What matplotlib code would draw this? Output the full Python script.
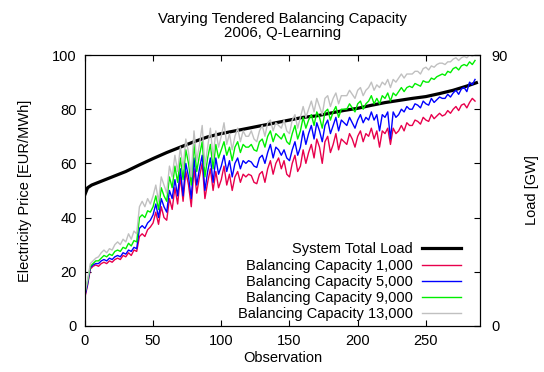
import numpy as np
import matplotlib
matplotlib.use("Agg")
import matplotlib.pyplot as plt

plt.rcParams['font.family'] = ['Liberation Sans', 'DejaVu Sans']
plt.rcParams['font.size'] = 10.5

# observations (every second one) for the price series
obs = np.arange(0, 288, 2)

price_1000 = [
    10.5, 15, 21, 22, 22.5, 22, 23, 23.5, 23, 24, 23.5, 24.5,
    25, 24.5, 26, 25.5, 27, 26, 28, 27.5, 33, 34, 33, 35.5,
    36.5, 38, 42, 37.5, 44, 40, 39, 47, 43, 51, 45, 55,
    46, 57, 52, 44, 58, 49, 55, 60, 47, 53, 58, 50,
    57, 51, 54, 59, 52, 56, 50, 55, 57, 53, 56, 55,
    56, 55.5, 53, 52.5, 56, 57, 53, 58, 61, 56, 60, 62,
    58, 61, 56, 55, 60, 63, 57, 59, 65, 60, 64, 67,
    62, 69, 66, 60, 68, 70, 64, 67, 71, 65, 69, 68,
    67, 71, 69, 66, 70, 72, 68, 71, 70, 73, 69, 72,
    66, 72, 71, 73, 67, 73, 71, 72, 74, 72, 75, 74,
    74, 76, 75.5, 74.5, 77, 76, 75.5, 78, 76.5, 77.5, 78.5, 77.5,
    78, 79.5, 78.5, 80, 81, 79.5, 81.5, 82, 80.5, 82.5, 84, 83,
]
price_5000 = [
    11, 15.5, 21.5, 22.5, 23, 23, 24, 24.5, 24, 25, 24.5, 25.5,
    26, 25.5, 27, 26.5, 28, 27.5, 29, 28.5, 36, 37, 36, 38,
    39, 41, 45, 40, 47, 44, 42, 50, 47, 54, 48, 58,
    48, 60, 55, 47, 62, 52, 58, 63, 50, 57, 62, 53,
    62, 56, 59, 63, 57, 61, 55, 60, 62, 58, 61, 60,
    61, 60.5, 59, 58.5, 62, 63, 60, 64, 67, 62, 66, 65,
    63, 65, 62, 61, 65, 68, 63, 66, 72, 67, 71, 74,
    69, 75, 72, 68, 74, 76, 71, 74, 77, 72, 76, 75,
    74, 77, 75, 73, 76, 78, 75, 77, 76, 79, 76, 78,
    72, 78, 77, 79, 69, 79, 77, 78, 80, 79, 81, 80,
    80, 82, 81.5, 80.5, 83, 82, 81.5, 84, 82.5, 83.5, 84.5, 84,
    84, 85.5, 84.5, 86, 87, 85.5, 87.5, 88, 86.5, 90, 89, 91,
]
price_9000 = [
    12, 16.5, 22, 23, 24, 24, 25, 26, 25.5, 26.5, 26, 27.5,
    28, 27.5, 29, 28.5, 30.5, 29.5, 31.5, 31, 40, 41, 40, 42.5,
    42, 44, 48, 43, 51, 48, 46, 55, 51, 59, 53, 62,
    54, 65, 60, 52, 67, 57, 63, 68, 55, 62, 67, 58,
    67, 62, 65, 68, 63, 66, 61, 66, 68, 64, 67, 66,
    66, 67, 65, 64.5, 68, 69, 66, 70, 72, 68, 71, 70,
    69, 71, 68, 67, 71, 74, 69, 72, 77, 73, 76, 78,
    74, 79, 77, 73, 79, 80, 76, 79, 81, 77, 80, 80,
    80, 82, 80.5, 79, 82, 83, 80, 82, 83, 85, 82, 84,
    82, 85, 84, 86, 83, 86, 85, 86.5, 88, 86.5, 88, 88.5,
    88, 89.5, 89, 88.5, 90.5, 90, 90, 91.5, 91, 92, 92.5, 93,
    92.5, 94, 93.5, 95, 95.5, 94.5, 96, 96.5, 96, 97.5, 96.5, 98,
]
price_13000 = [
    12, 17, 23, 24, 25, 25.5, 27, 28, 27, 28.5, 28, 30,
    31, 30, 32, 31, 34, 32, 35, 34, 44, 46, 44, 47,
    45, 48, 52, 46, 55, 52, 49, 59, 55, 63, 57, 66,
    58, 69, 64, 55, 72, 61, 67, 74, 59, 66, 73, 62,
    72, 66, 70, 75, 67, 71, 65, 70, 73, 68, 72, 70,
    70, 72, 69, 68, 72, 74, 70, 75, 76, 72, 75, 74,
    73, 76, 72, 71, 76, 78, 73, 77, 81, 77, 80, 83,
    79, 84, 81, 78, 84, 85, 81, 84, 86, 82, 85, 85,
    85, 87, 85.5, 84, 87, 88, 85, 87, 88, 90, 87, 89,
    88, 90, 89, 91, 88, 91, 90, 91.5, 93, 91.5, 93, 93,
    93, 94, 94, 93, 95, 95.5, 94.5, 96, 95.5, 96.5, 97, 97,
    96.5, 97.5, 97.5, 98.5, 99, 98, 99, 99.5, 99, 100, 99.5, 100,
]

# system total load in GW (right axis)
load_obs = [0, 2, 5, 10, 20, 30, 40, 50, 60, 70, 80, 90, 100, 110, 120, 130,
            140, 150, 160, 170, 180, 190, 200, 210, 220, 230, 240, 250, 260,
            270, 280, 287]
load_gw = [43.6, 45.9, 46.8, 47.7, 49.5, 51.3, 53.5, 55.6, 57.6, 59.4, 61.2,
           62.8, 63.9, 64.8, 65.7, 66.6, 67.5, 68.4, 69.3, 69.8, 70.7, 71.6,
           72.3, 73.3, 74.2, 74.9, 75.6, 76.2, 77.2, 78.3, 79.7, 80.8]

series = [
    ("Balancing Capacity 1,000", price_1000, "#e8004c"),
    ("Balancing Capacity 5,000", price_5000, "#0000ff"),
    ("Balancing Capacity 9,000", price_9000, "#00ee00"),
    ("Balancing Capacity 13,000", price_13000, "#c0c0c0"),
]

fig = plt.figure(figsize=(5.44, 3.72), dpi=100)
ax = fig.add_axes([0.156, 0.124, 0.726, 0.728])
ax2 = ax.twinx()

# load first (gnuplot plot order), then prices on top
ax.set_zorder(ax2.get_zorder() + 1)
ax.patch.set_visible(False)

h_load, = ax2.plot(load_obs, load_gw, color="black", lw=2.3, label="System Total Load")
handles = [h_load]
for name, vals, col in series:
    h, = ax.plot(obs, vals, color=col, lw=1.0, label=name)
    handles.append(h)

ax.set_xlim(0, 289.5)
ax.set_ylim(0, 100)
ax2.set_ylim(0, 90)
ax.set_xticks(np.arange(0, 300, 50))
ax.set_yticks(np.arange(0, 101, 20))
ax2.set_yticks([0, 90])

ax.tick_params(direction="in", top=True, right=True, length=4, pad=6)
ax2.tick_params(direction="in", length=4, pad=8)

ax.set_xlabel("Observation", labelpad=2)
ax.set_ylabel("Electricity Price [EUR/MWh]", labelpad=14)
ax2.set_ylabel("Load [GW]", labelpad=13)
ax.set_title("Varying Tendered Balancing Capacity\n2006, Q-Learning", fontsize=10.8,
             linespacing=1.0, pad=13)

ax.legend(handles=handles, loc="lower right", bbox_to_anchor=(0.975, -0.015),
          frameon=False, markerfirst=False, handlelength=2.7, handletextpad=0.6,
          labelspacing=0.15, borderaxespad=0.2)

fig.savefig("out.png", dpi=100)
